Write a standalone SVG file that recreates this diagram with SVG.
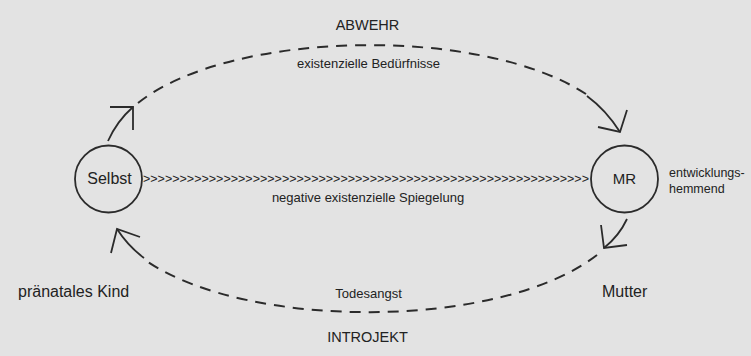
<svg xmlns="http://www.w3.org/2000/svg" width="751" height="356" viewBox="0 0 751 356">
<style>
  .bg{fill:#e3e3e3}
  .node{fill:none;stroke:#2b2b2b;stroke-width:1.8}
  .dash{fill:none;stroke:#2b2b2b;stroke-width:2;stroke-dasharray:11 8}
  .solid{fill:none;stroke:#2b2b2b;stroke-width:1.8}
  .head{fill:none;stroke:#2b2b2b;stroke-width:1.8;stroke-linejoin:miter}
  text{font-family:"Liberation Sans",Arial,sans-serif;fill:#222}
  .big{font-size:15px}
  .mid{font-size:13px}
  .chain{font-size:12.5px}
</style>
<rect class="bg" x="0" y="0" width="751" height="356"/>

<g id="connectors">
  <!-- top arc: Selbst to MR -->
  <path class="solid" d="M108,141 Q117,121 133,107"/>
  <polyline class="head" points="110,107 133,107 133,130"/>
  <path class="dash" d="M138,103 C230,30 480,25 586,94"/>
  <path class="solid" d="M587,96 Q606,110 620,132"/>
  <polyline class="head" points="598,127 620,132 627,110"/>
  <!-- bottom arc: MR to Selbst -->
  <path class="solid" d="M627,219 Q619,236 604,248"/>
  <polyline class="head" points="627,245 604,248 601,225"/>
  <path class="dash" d="M597,255 C500,330 250,330 148,262"/>
  <path class="solid" d="M144,258 Q128,246 117,229"/>
  <polyline class="head" points="140,237 117,229 111,253"/>
  <!-- straight chain -->
  <text class="chain" x="143" y="183" textLength="446" lengthAdjust="spacingAndGlyphs">&gt;&gt;&gt;&gt;&gt;&gt;&gt;&gt;&gt;&gt;&gt;&gt;&gt;&gt;&gt;&gt;&gt;&gt;&gt;&gt;&gt;&gt;&gt;&gt;&gt;&gt;&gt;&gt;&gt;&gt;&gt;&gt;&gt;&gt;&gt;&gt;&gt;&gt;&gt;&gt;&gt;&gt;&gt;&gt;&gt;&gt;&gt;&gt;&gt;&gt;&gt;&gt;&gt;&gt;&gt;&gt;&gt;&gt;&gt;&gt;&gt;</text>
</g>

<g id="node-selbst">
  <circle class="node" cx="108.5" cy="179" r="33.5"/>
  <text x="109.5" y="184" font-size="16" text-anchor="middle">Selbst</text>
</g>

<g id="node-mr">
  <circle class="node" cx="624.5" cy="179" r="33.5"/>
  <text x="624.5" y="184" font-size="15" text-anchor="middle">MR</text>
</g>

<g id="labels">
  <text x="367.5" y="30" font-size="14.5" text-anchor="middle">ABWEHR</text>
  <text class="mid" x="368.5" y="68" text-anchor="middle">existenzielle Bedürfnisse</text>
  <text class="mid" x="368" y="202" text-anchor="middle">negative existenzielle Spiegelung</text>
  <text class="mid" x="368.5" y="298" text-anchor="middle">Todesangst</text>
  <text x="367.5" y="342" font-size="14.5" text-anchor="middle">INTROJEKT</text>
  <text x="18" y="297" font-size="16">pränatales Kind</text>
  <text x="602" y="297" font-size="16">Mutter</text>
  <text x="669" y="177" font-size="12.5">entwicklungs-</text>
  <text x="669" y="193" font-size="12.5">hemmend</text>
</g>
</svg>
